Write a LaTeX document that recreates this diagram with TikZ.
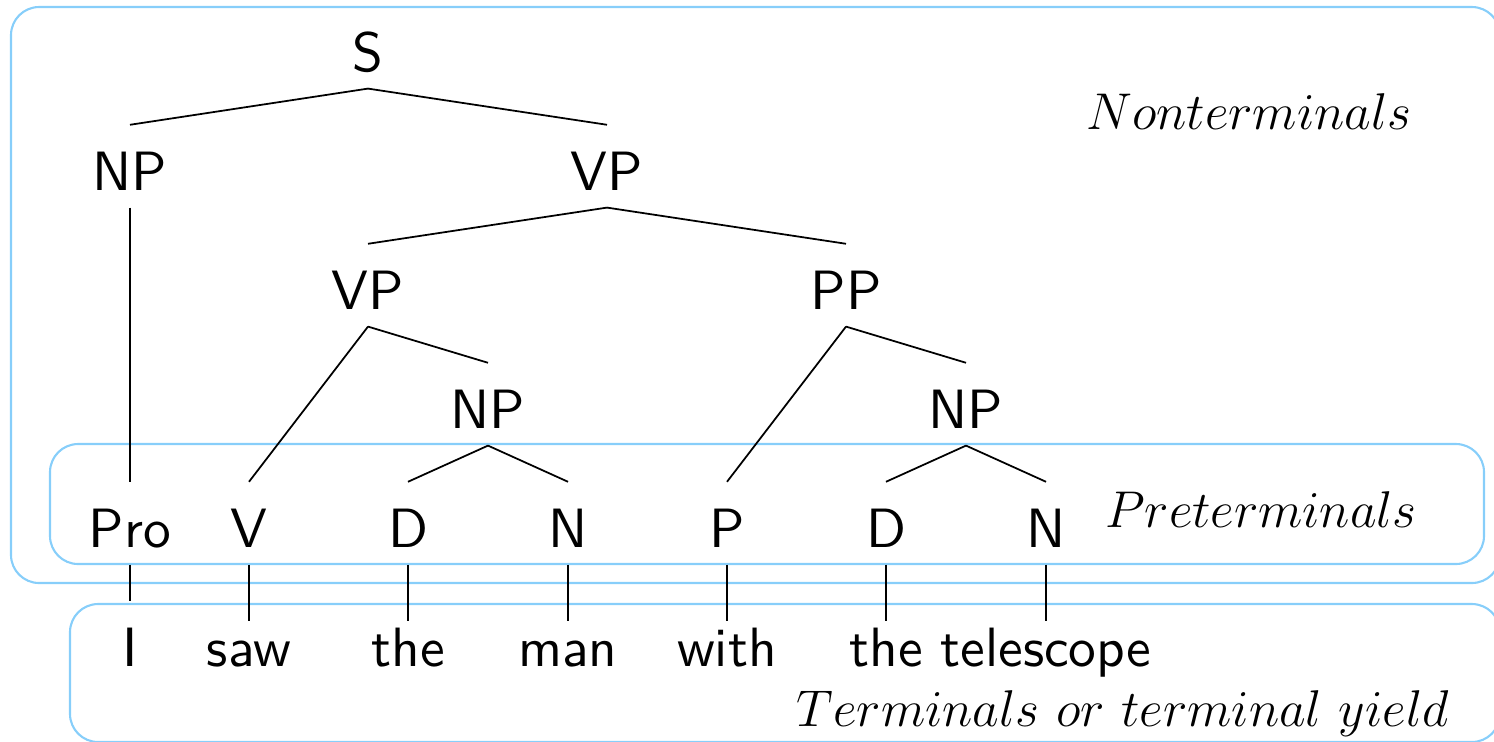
\RequirePackage{fix-cm}
\documentclass[tikz,border=0pt]{standalone}
\usepackage{fontspec}
\setsansfont{lmsans10-regular.otf}
\definecolor{135_206_250}{RGB}{135, 206, 250}

\begin{document}
\begin{tikzpicture}[
        x=0.01cm, y=-0.01cm,
        line width=0.5pt,
        cat/.style={anchor=base, inner sep=0pt, text height=18.3pt, text depth=4.75pt,
            font=\fontsize{15.75}{19}\sffamily},
        word/.style={cat, text height=12.5pt},
        tag/.style={anchor=base, inner sep=0pt, font=\fontsize{14.7}{18}\selectfont},
        band/.style={draw=135_206_250, line width=0.6pt, rounded corners=8pt}
    ]
    \useasboundingbox (0,0) rectangle (1494,741);
    \clip (0,0) rectangle (1494,741);

    % the three levels
    \draw[band] (11,7) rectangle (1500,583);
    \draw[band] (50,444) rectangle (1484,564);
    \draw[band] (70,604) rectangle (1500,742);

    \node[tag] (nonterm) at (1249,129) {$Nonterminals$};
    \node[tag] (preterm) at (1261,527) {$Preterminals$};
    \node[tag] (term) at (1123,726) {$Terminals\ or\ terminal\ yield$};

    % tree
    \node[cat] (s) at (368,71) {S};
    \node[cat] (np1) at (130,190) {NP};
    \node[cat] (vp1) at (607,190) {VP};
    \node[cat] (vp2) at (368,309) {VP};
    \node[cat] (pp) at (846,309) {PP};
    \node[cat] (np2) at (488,428) {NP};
    \node[cat] (np3) at (966,428) {NP};
    \node[cat] (pro) at (130,547) {Pro};
    \node[cat] (v) at (249,547) {V};
    \node[cat] (d1) at (408,547) {D};
    \node[cat] (n1) at (568,547) {N};
    \node[cat] (p) at (727,547) {P};
    \node[cat] (d2) at (886,547) {D};
    \node[cat] (n2) at (1046,547) {N};
    \node[word, text height=18.3pt] (w1) at (130,666) {I};
    \node[word] (w2) at (249,666) {saw};
    \node[word] (w3) at (408,666) {the};
    \node[word] (w4) at (568,666) {man};
    \node[word] (w5) at (727,666) {with};
    \node[word] (w6) at (886,666) {the};
    \node[word] (w7) at (1046,666) {telescope};

    \draw (s.south) -- (np1.north);
    \draw (s.south) -- (vp1.north);
    \draw (np1.south) -- (pro.north);
    \draw (vp1.south) -- (vp2.north);
    \draw (vp1.south) -- (pp.north);
    \draw (vp2.south) -- (v.north);
    \draw (vp2.south) -- (np2.north);
    \draw (np2.south) -- (d1.north);
    \draw (np2.south) -- (n1.north);
    \draw (pp.south) -- (p.north);
    \draw (pp.south) -- (np3.north);
    \draw (np3.south) -- (d2.north);
    \draw (np3.south) -- (n2.north);
    \draw (pro.south) -- (w1.north);
    \draw (v.south) -- (w2.north);
    \draw (d1.south) -- (w3.north);
    \draw (n1.south) -- (w4.north);
    \draw (p.south) -- (w5.north);
    \draw (d2.south) -- (w6.north);
    \draw (n2.south) -- (w7.north);
\end{tikzpicture}
\end{document}
